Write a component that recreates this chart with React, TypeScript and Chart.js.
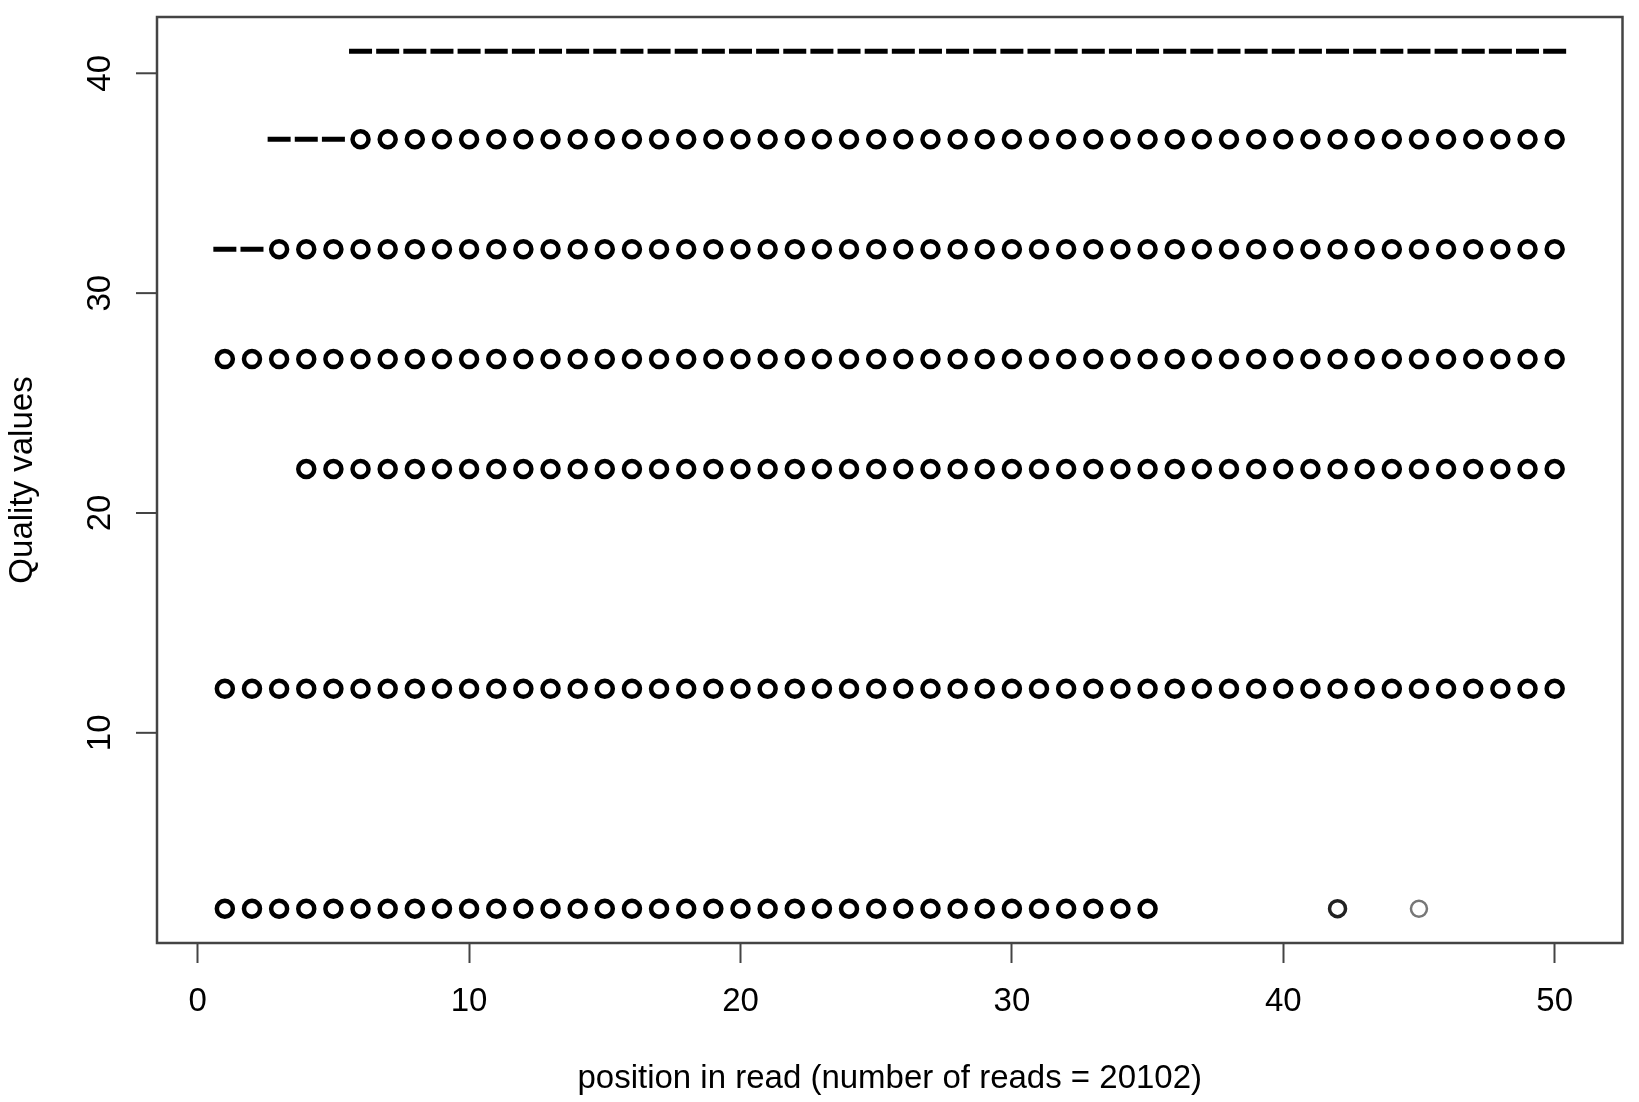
import { useEffect, useRef } from 'react';
import { Chart, registerables } from 'chart.js';

Chart.register(...registerables);

// positions in read where each quality value shows up
const q2Positions = [1, 2, 3, 4, 5, 6, 7, 8, 9, 10, 11, 12, 13, 14, 15, 16, 17, 18, 19, 20, 21, 22, 23, 24, 25, 26, 27, 28, 29, 30, 31, 32, 33, 34, 35];
const q2Sparse = [42];
const q2Rare = [45];
const q12Positions = [1, 2, 3, 4, 5, 6, 7, 8, 9, 10, 11, 12, 13, 14, 15, 16, 17, 18, 19, 20, 21, 22, 23, 24, 25, 26, 27, 28, 29, 30, 31, 32, 33, 34, 35, 36, 37, 38, 39, 40, 41, 42, 43, 44, 45, 46, 47, 48, 49, 50];
const q22Positions = [4, 5, 6, 7, 8, 9, 10, 11, 12, 13, 14, 15, 16, 17, 18, 19, 20, 21, 22, 23, 24, 25, 26, 27, 28, 29, 30, 31, 32, 33, 34, 35, 36, 37, 38, 39, 40, 41, 42, 43, 44, 45, 46, 47, 48, 49, 50];
const q27Positions = [1, 2, 3, 4, 5, 6, 7, 8, 9, 10, 11, 12, 13, 14, 15, 16, 17, 18, 19, 20, 21, 22, 23, 24, 25, 26, 27, 28, 29, 30, 31, 32, 33, 34, 35, 36, 37, 38, 39, 40, 41, 42, 43, 44, 45, 46, 47, 48, 49, 50];
const q32Positions = [3, 4, 5, 6, 7, 8, 9, 10, 11, 12, 13, 14, 15, 16, 17, 18, 19, 20, 21, 22, 23, 24, 25, 26, 27, 28, 29, 30, 31, 32, 33, 34, 35, 36, 37, 38, 39, 40, 41, 42, 43, 44, 45, 46, 47, 48, 49, 50];
const q37Positions = [6, 7, 8, 9, 10, 11, 12, 13, 14, 15, 16, 17, 18, 19, 20, 21, 22, 23, 24, 25, 26, 27, 28, 29, 30, 31, 32, 33, 34, 35, 36, 37, 38, 39, 40, 41, 42, 43, 44, 45, 46, 47, 48, 49, 50];

// positions drawn with a dash mark instead of a circle
const q32Dashes = [1, 2];
const q37Dashes = [3, 4, 5];
const q41Dashes = [6, 7, 8, 9, 10, 11, 12, 13, 14, 15, 16, 17, 18, 19, 20, 21, 22, 23, 24, 25, 26, 27, 28, 29, 30, 31, 32, 33, 34, 35, 36, 37, 38, 39, 40, 41, 42, 43, 44, 45, 46, 47, 48, 49, 50];

const xTicks = [0, 10, 20, 30, 40, 50];
const yTicks = [10, 20, 30, 40];

const FONT = "'Liberation Sans', Arial, Helvetica, sans-serif";
const FONT_SIZE = 33;
const AXIS_COLOR = '#444';

const toPoints = (xs: number[], y: number) => xs.map((x) => ({ x, y }));

// box around the plot + y ticks/labels rotated like R
const rBoxPlugin = {
  id: 'rBox',
  afterDraw(chart: Chart) {
    const { ctx, chartArea } = chart;
    const yScale = chart.scales.y;
    ctx.save();
    ctx.strokeStyle = AXIS_COLOR;
    ctx.lineWidth = 2.5;
    ctx.strokeRect(chartArea.left, chartArea.top, chartArea.right - chartArea.left, chartArea.bottom - chartArea.top);

    ctx.lineWidth = 2;
    ctx.fillStyle = '#000';
    ctx.font = `${FONT_SIZE}px ${FONT}`;
    ctx.textAlign = 'center';
    ctx.textBaseline = 'middle';
    yTicks.forEach((v) => {
      const py = yScale.getPixelForValue(v);
      ctx.beginPath();
      ctx.moveTo(chartArea.left - 21, py);
      ctx.lineTo(chartArea.left, py);
      ctx.stroke();
      ctx.save();
      ctx.translate(chartArea.left - 56, py);
      ctx.rotate(-Math.PI / 2);
      ctx.fillText(String(v), 0, 0);
      ctx.restore();
    });
    ctx.restore();
  },
};

export default function App() {
  const chartRef = useRef<HTMLCanvasElement>(null);
  const chartInstance = useRef<Chart | null>(null);

  useEffect(() => {
    document.body.style.margin = '0';
    if (!chartRef.current) return;
    const ctx = chartRef.current.getContext('2d');
    if (!ctx) return;

    const circle = (data: { x: number; y: number }[], width = 4.5, color = '#000') => ({
      data,
      pointStyle: 'circle' as const,
      pointRadius: 8,
      pointBorderWidth: width,
      pointBorderColor: color,
      pointBackgroundColor: 'rgba(0,0,0,0)',
    });
    const dash = (data: { x: number; y: number }[]) => ({
      data,
      pointStyle: 'line' as const,
      pointRadius: 11.5,
      pointBorderWidth: 5,
      pointBorderColor: '#000',
      pointBackgroundColor: '#000',
    });

    chartInstance.current = new Chart(ctx, {
      type: 'scatter',
      data: {
        datasets: [
          circle(toPoints(q2Positions, 2)),
          circle(toPoints(q2Sparse, 2), 3.5, '#222'),
          circle(toPoints(q2Rare, 2), 2.5, '#777'),
          circle(toPoints(q12Positions, 12)),
          circle(toPoints(q22Positions, 22)),
          circle(toPoints(q27Positions, 27)),
          circle(toPoints(q32Positions, 32)),
          circle(toPoints(q37Positions, 37)),
          dash(toPoints(q32Dashes, 32)),
          dash(toPoints(q37Dashes, 37)),
          dash(toPoints(q41Dashes, 41)),
        ],
      },
      options: {
        responsive: false,
        animation: false,
        devicePixelRatio: 1,
        layout: { padding: { top: 17, right: 13, left: 0, bottom: 0 } },
        plugins: {
          legend: { display: false },
          tooltip: { enabled: false },
        },
        scales: {
          x: {
            type: 'linear',
            min: -1.5,
            max: 52.5,
            afterBuildTicks: (axis) => {
              axis.ticks = xTicks.map((value) => ({ value }));
            },
            afterFit: (axis) => {
              axis.height = 159;
            },
            border: { display: false },
            grid: {
              drawOnChartArea: false,
              drawTicks: true,
              tickLength: 20,
              tickColor: AXIS_COLOR,
              tickWidth: 2,
            },
            ticks: {
              color: '#000',
              font: { family: FONT, size: FONT_SIZE },
              padding: 19,
              maxRotation: 0,
              autoSkip: false,
            },
            title: {
              display: true,
              text: 'position in read (number of reads = 20102)',
              color: '#000',
              font: { family: FONT, size: FONT_SIZE },
              padding: { top: 0, bottom: 3 },
            },
          },
          y: {
            type: 'linear',
            min: 0.44,
            max: 42.56,
            afterFit: (axis) => {
              axis.width = 157;
            },
            border: { display: false },
            grid: { display: false },
            ticks: { display: false },
            title: {
              display: true,
              text: 'Quality values',
              color: '#000',
              font: { family: FONT, size: FONT_SIZE },
              padding: { top: 3, bottom: 0 },
            },
          },
        },
      },
      plugins: [rBoxPlugin],
    });

    return () => {
      if (chartInstance.current) {
        chartInstance.current.destroy();
      }
    };
  }, []);

  return (
    <div style={{ width: 1639, height: 1102, background: '#fff' }}>
      <canvas ref={chartRef} width={1639} height={1102} />
    </div>
  );
}
